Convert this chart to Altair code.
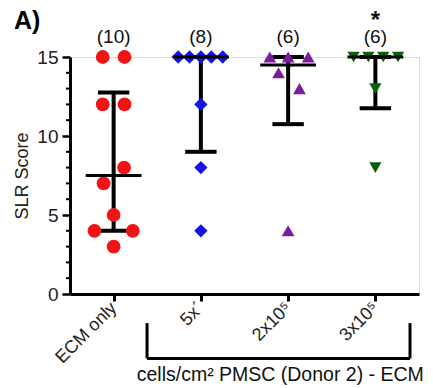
import altair as alt
import pandas as pd

groups = ["ECM only", "5x\u00b4", "2x10\u2075", "3x10\u2075"]
colors = ["#f21414", "#1414ea", "#7c1c9c", "#0b5e0b"]
shapes = ["circle", "diamond", "triangle-up", "triangle-down"]
counts = ["(10)", "(8)", "(6)", "(6)"]

ecm_vals = [15, 15, 12, 12, 8, 7, 5, 4, 4, 3]
ecm_jit = [-0.125, 0.125, -0.125, 0.125, 0.12, -0.115, 0.0, -0.22, 0.22, 0.0]
g5_vals = [15, 15, 15, 15, 15, 12, 8, 4]
g5_jit = [-0.26, -0.13, 0.0, 0.12, 0.25, 0.0, 0.0, 0.0]
g2_vals = [15, 15, 15, 14, 13, 4]
g2_jit = [-0.21, 0.0, 0.23, -0.11, 0.13, 0.0]
g3_vals = [15, 15, 15, 15, 13, 8]
g3_jit = [-0.25, -0.08, 0.09, 0.26, 0.0, 0.0]

medians = [7.5, 15, 14.5, 15]
lowers = [4, 9, 10.75, 11.75]
uppers = [12.75, 15, 15, 15]

minor_ticks = [1, 2, 3, 4, 6, 7, 8, 9, 11, 12, 13, 14]

rows = []
for i, (vals, jit) in enumerate([(ecm_vals, ecm_jit), (g5_vals, g5_jit),
                                  (g2_vals, g2_jit), (g3_vals, g3_jit)]):
    for v, j in zip(vals, jit):
        rows.append({"pos": i + j, "val": v, "group": groups[i]})
pts = pd.DataFrame(rows)

summ = pd.DataFrame({
    "idx": list(range(4)),
    "group": groups,
    "med": medians, "lo": lowers, "hi": uppers,
    "count": counts,
})
summ["cl"] = summ["idx"] - 0.18
summ["cr"] = summ["idx"] + 0.18
summ["ml"] = summ["idx"] - 0.32
summ["mr"] = summ["idx"] + 0.32
summ["cnt_y"] = 16.27

label_expr = "datum.value == 0 ? 'ECM only' : datum.value == 1 ? '5x\u00b4' : datum.value == 2 ? '2x10\u2075' : '3x10\u2075'"

xscale = alt.Scale(domain=[-0.5, 3.5], nice=False, zero=False)
yscale = alt.Scale(domain=[0, 15], nice=False)

FONT = "Liberation Sans"
base = alt.Chart(summ)

xenc = alt.X("idx:Q", scale=xscale, axis=alt.Axis(
    values=[0, 1, 2, 3], labelExpr=label_expr, title=None, grid=False,
    labelAngle=-45, labelAlign="right", labelBaseline="middle",
    labelFontSize=18, labelColor="#222222", labelFont=FONT,
    tickSize=7, tickWidth=3, tickColor="black", domainWidth=3, domainColor="black",
    labelPadding=4))
yaxis = alt.Axis(values=[0, 5, 10, 15], title="SLR Score", grid=False,
                 labelFontSize=19, labelColor="#222222", labelFont=FONT,
                 titleFontSize=18, titleFontWeight="normal", titleFont=FONT,
                 titleColor="#222222", titlePadding=5,
                 tickSize=8, tickWidth=2.5, tickColor="black",
                 domainWidth=3, domainColor="black", labelPadding=4)

whisk = base.mark_rule(color="black", strokeWidth=4).encode(
    x=xenc, y=alt.Y("lo:Q", scale=yscale, axis=yaxis), y2="hi:Q")
capl = base.mark_rule(color="black", strokeWidth=4).encode(
    x="cl:Q", x2="cr:Q", y="lo:Q")
caph = base.mark_rule(color="black", strokeWidth=4).encode(
    x="cl:Q", x2="cr:Q", y="hi:Q")

points = alt.Chart(pts).mark_point(filled=True, opacity=1, strokeWidth=0).encode(
    x="pos:Q", y="val:Q",
    color=alt.Color("group:N", scale=alt.Scale(domain=groups, range=colors), legend=None),
    shape=alt.Shape("group:N", scale=alt.Scale(domain=groups, range=shapes), legend=None),
    size=alt.Size("group:N", scale=alt.Scale(domain=groups, range=[190, 150, 190, 170]), legend=None),
)

medl = base.mark_rule(color="black", strokeWidth=3).encode(
    x="ml:Q", x2="mr:Q", y="med:Q")

cnt = base.mark_text(fontSize=19, font=FONT, color="#111111").encode(
    x="idx:Q", y="cnt_y:Q", text="count:N")

star = alt.Chart(pd.DataFrame({"x": [3], "t": ["*"]})).mark_text(
    fontSize=24, fontWeight="bold", font=FONT, color="#111111", baseline="top").encode(
    x="x:Q", y=alt.value(-48), text="t:N")

minor = alt.Chart(pd.DataFrame({"v": minor_ticks})).mark_rule(color="black", strokeWidth=2).encode(
    x=alt.value(-4), x2=alt.value(0), y="v:Q")

panel = alt.Chart(pd.DataFrame({"t": ["A)"]})).mark_text(
    fontSize=25, fontWeight="bold", font=FONT, align="left", baseline="top",
    color="black").encode(x=alt.value(-56), y=alt.value(-48), text="t:N")

brk = pd.DataFrame({"x": [0.383, 3.397, 0.383], "x2": [0.383, 3.397, 3.397],
                    "y": [-1.84, -1.84, -4.08], "y2": [-4.08, -4.08, -4.08]})
bracket = alt.Chart(brk).mark_rule(color="black", strokeWidth=3).encode(
    x="x:Q", x2="x2:Q", y="y:Q", y2="y2:Q")

btxt = alt.Chart(pd.DataFrame({"x": [1.91], "y": [-5.15], "t": ["cells/cm\u00b2 PMSC (Donor 2) - ECM"]})).mark_text(
    fontSize=19.5, font=FONT, color="#111111", baseline="middle").encode(
    x="x:Q", y="y:Q", text="t:N")

chart = alt.layer(whisk, capl, caph, points, medl, cnt, star, minor, panel, bracket, btxt).properties(
    width=349, height=237,
    autosize=alt.AutoSizeParams(type="none"),
    padding={"left": 62, "top": 49, "right": 6, "bottom": 94},
).configure_view(stroke=None).configure(background="white")

chart.save("out.html", embed_options={"renderer": "svg", "actions": False})
